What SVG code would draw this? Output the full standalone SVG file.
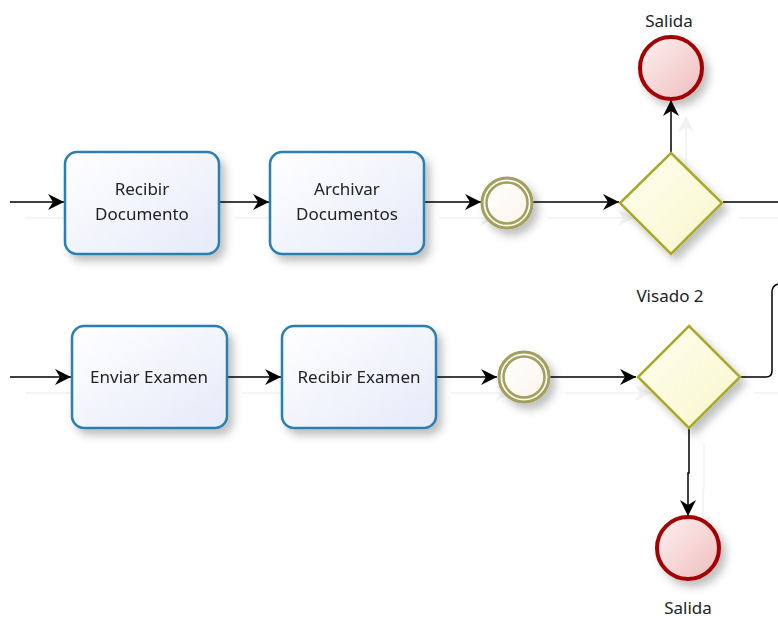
<svg xmlns="http://www.w3.org/2000/svg" width="778" height="620" viewBox="0 0 778 620">
<defs>
<linearGradient id="gTask" x1="0" y1="0" x2="1" y2="1"><stop offset="0" stop-color="#ffffff"/><stop offset="1" stop-color="#e6eaf9"/></linearGradient>
<linearGradient id="gGate" x1="0" y1="0" x2="1" y2="1"><stop offset="0" stop-color="#fefef0"/><stop offset="1" stop-color="#f8f7cc"/></linearGradient>
<linearGradient id="gEnd" x1="0" y1="0" x2="1" y2="1"><stop offset="0" stop-color="#fdf2f2"/><stop offset="1" stop-color="#efbcbc"/></linearGradient>
<linearGradient id="gMid" x1="0" y1="0" x2="1" y2="1"><stop offset="0" stop-color="#ffffff"/><stop offset="1" stop-color="#fbf5ea"/></linearGradient>
<filter id="sh" x="-20%" y="-20%" width="150%" height="150%"><feDropShadow dx="5" dy="6" stdDeviation="4" flood-color="#000" flood-opacity="0.25"/></filter>
<filter id="lsh" x="-10%" y="-10%" width="130%" height="130%"><feDropShadow dx="15" dy="16" stdDeviation="0.6" flood-color="#000" flood-opacity="0.05"/></filter>
<marker id="arr" markerUnits="userSpaceOnUse" markerWidth="18" markerHeight="18" refX="16" refY="9" orient="auto"><path d="M0,1 L16,9 L0,17 L5,9 z" fill="#000"/></marker>
<style>
.task{fill:url(#gTask);stroke:#2a7fb0;stroke-width:2.5}
.gate{fill:url(#gGate);stroke:#a9a92a;stroke-width:2.5}
.mid{fill:url(#gMid);stroke:#a39f5c;stroke-width:3}
.mid2{fill:none;stroke:#a39f5c;stroke-width:2.5}
.end{fill:url(#gEnd);stroke:#a50000;stroke-width:4}
.t{font-family:"Noto Sans",sans-serif;font-size:17px;fill:#222;text-anchor:middle}
.c{fill:none;stroke:#000;stroke-width:1.5}
.ca{fill:none;stroke:#000;stroke-width:1.5;marker-end:url(#arr)}
</style>
</defs>
<rect width="778" height="620" fill="#fff"/>
<g id="connectors" filter="url(#lsh)">
<path class="ca" d="M10 202 H64"/>
<path class="ca" d="M219 202 H269"/>
<path class="ca" d="M424 202 H481"/>
<path class="ca" d="M533 202 H619"/>
<path class="c" d="M723 202 H778"/>
<path class="ca" d="M671 153 V100"/>
<path class="ca" d="M10 377 H71"/>
<path class="ca" d="M227 377 H281"/>
<path class="ca" d="M436 377 H497"/>
<path class="ca" d="M550 377 H636"/>
<path class="c" d="M740 377 H766 Q772 377 772 371 V292 Q772 286 778 284"/>
<path class="ca" d="M689 427 V473 H688 V516"/>
</g>
<g id="task-recibir-documento" filter="url(#sh)">
<rect class="task" x="65" y="152" width="154" height="102" rx="12"/>
<text class="t" x="142" y="195">Recibir</text>
<text class="t" x="142" y="220">Documento</text>
</g>
<g id="task-archivar-documentos" filter="url(#sh)">
<rect class="task" x="270" y="152" width="154" height="102" rx="12"/>
<text class="t" x="347" y="195">Archivar</text>
<text class="t" x="347" y="220">Documentos</text>
</g>
<g id="event-1" filter="url(#sh)">
<circle class="mid" cx="507" cy="203" r="25"/>
<circle class="mid2" cx="507" cy="203" r="20.5"/>
</g>
<g id="gateway-1" filter="url(#sh)">
<polygon class="gate" points="671,153 722,203 671,254 620,203"/>
</g>
<g id="end-salida-top" filter="url(#sh)">
<circle class="end" cx="671" cy="68" r="31"/>
</g>
<text class="t" x="669" y="27">Salida</text>
<g id="task-enviar-examen" filter="url(#sh)">
<rect class="task" x="72" y="326" width="155" height="102" rx="12"/>
<text class="t" x="149" y="383">Enviar Examen</text>
</g>
<g id="task-recibir-examen" filter="url(#sh)">
<rect class="task" x="282" y="326" width="154" height="102" rx="12"/>
<text class="t" x="359" y="383">Recibir Examen</text>
</g>
<g id="event-2" filter="url(#sh)">
<circle class="mid" cx="524" cy="377" r="25"/>
<circle class="mid2" cx="524" cy="377" r="20.5"/>
</g>
<g id="gateway-visado-2" filter="url(#sh)">
<polygon class="gate" points="689,326 740,377 689,428 638,377"/>
</g>
<text class="t" x="670" y="302">Visado 2</text>
<g id="end-salida-bottom" filter="url(#sh)">
<circle class="end" cx="688" cy="548" r="31"/>
</g>
<text class="t" x="688" y="614">Salida</text>
</svg>
